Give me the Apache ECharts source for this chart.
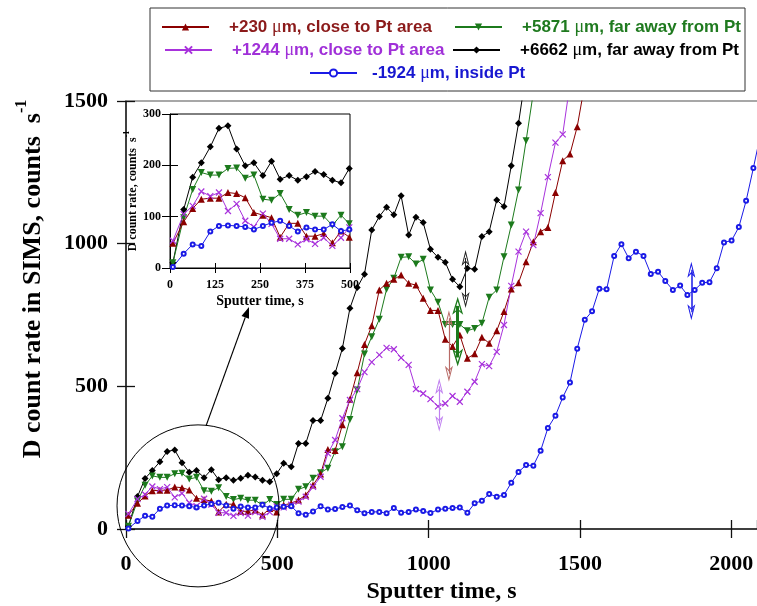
<!DOCTYPE html>
<html><head><meta charset="utf-8">
<script src="https://cdn.jsdelivr.net/npm/echarts@6/dist/echarts.min.js"></script>
<style>html,body{margin:0;padding:0;background:#fff}#c{width:757px;height:606px}</style>
</head><body><div id="c"></div>
<script>
// Sputter time, s (shared measurement times)
const time = [8, 38, 63, 87, 112, 136, 161, 185, 209, 233, 258, 282, 306, 331, 355, 379, 403, 427, 451, 475, 498,
  521, 546, 570, 594, 618, 643, 667, 691, 715, 740, 764, 788, 812, 837, 861, 885, 909, 934, 958, 982,
  1006, 1031, 1055, 1079, 1103, 1128, 1152, 1176, 1200, 1225, 1249, 1273, 1297, 1322, 1346, 1370, 1394, 1419, 1443, 1467,
  1491, 1516, 1540, 1564, 1588, 1613, 1637, 1661, 1685, 1710, 1734, 1758, 1782, 1807, 1831, 1855, 1879, 1904, 1928, 1952,
  1976, 2001, 2025, 2049, 2073, 2098];
// D count rate, counts/s
const red230 = [48, 90, 116, 134, 136, 136, 147, 145, 137, 108, 103, 98, 60, 87, 87, 62, 62, 67, 49, 72, 60,
  84, 90, 102, 119, 154, 193, 279, 275, 365, 455, 548, 647, 712, 838, 861, 875, 890, 861, 855, 809,
  766, 766, 665, 640, 680, 598, 614, 672, 651, 695, 762, 841, 863, 937, 1007, 1042, 1057, 1179, 1291, 1314, 1410, 1560];
const green5871 = [10, 98, 153, 186, 181, 181, 194, 195, 175, 181, 134, 132, 145, 114, 103, 108, 101, 101, 83, 103, 86,
  104, 104, 139, 148, 178, 197, 213, 271, 288, 384, 487, 613, 674, 735, 840, 879, 952, 954, 929, 945,
  838, 795, 717, 717, 717, 695, 703, 721, 812, 838, 954, 1065, 1188, 1361, 1530];
const purple1244 = [53, 105, 121, 149, 140, 147, 111, 125, 92, 80, 106, 86, 57, 57, 46, 56, 47, 59, 43, 59, 79,
  76, 85, 96, 113, 148, 183, 265, 312, 388, 452, 490, 550, 585, 610, 635, 630, 600, 575, 490, 475,
  455, 430, 440, 466, 446, 481, 516, 578, 571, 621, 715, 852, 972, 1042, 995, 1107, 1233, 1354, 1383, 1560];
const black6662 = [10, 114, 177, 205, 236, 272, 277, 232, 199, 205, 180, 208, 173, 180, 171, 178, 188, 182, 171, 166, 194,
  230, 218, 300, 300, 380, 380, 458, 546, 633, 774, 846, 893, 1048, 1095, 1128, 1101, 1168, 1030, 1093, 1074,
  980, 952, 935, 875, 849, 914, 910, 1025, 1042, 1153, 1130, 1273, 1422, 1600];
const blue1924 = [2, 28, 46, 43, 71, 82, 83, 82, 80, 75, 82, 88, 92, 82, 71, 79, 75, 75, 85, 72, 75,
  78, 80, 55, 50, 61, 80, 68, 70, 77, 82, 66, 55, 60, 60, 55, 74, 57, 60, 68, 63,
  56, 68, 71, 74, 75, 57, 90, 99, 123, 113, 119, 162, 200, 224, 222, 274, 354, 397, 461, 513,
  632, 733, 763, 842, 840, 957, 998, 949, 972, 957, 894, 902, 869, 838, 853, 820, 838, 863, 865, 914,
  1004, 1011, 1058, 1150, 1265, 1390];
const seriesNames = ['+230 μm, close to Pt area', '+5871 μm, far away from Pt', '+1244 μm, close to Pt area',
  '+6662 μm, far away from Pt', '-1924 μm, inside Pt'];
const mainXTicks = [0, 500, 1000, 1500, 2000];
const mainYTicks = [0, 500, 1000, 1500];
const insetXTicks = [0, 125, 250, 375, 500];
const insetYTicks = [0, 100, 200, 300];
// vertical double-arrow annotations: [time, upper value, lower value]
const arrowNotes = {
  black: [1122, 950, 803],
  green: [1096, 782, 601],
  red: [1067, 739, 544],
  purple: [1035, 500, 369],
  blue: [1868, 909, 760]
};
// circled region [time, value] centre
const circleCentre = [238, 81];

const SERIF = '"Liberation Serif", "Times New Roman", serif';
const SANS = '"Liberation Sans", Arial, sans-serif';
const COL = { red: '#8b0000', green: '#1c7a1c', purple: '#a832dc', black: '#000000', blue: '#1a1ae6' };
const TXT = { red: '#8b1a1a', green: '#1f7a1f', purple: '#a030d8', black: '#000000', blue: '#1818d0' };
const arrowPath = 'path://M5,0L10,20L5,15L0,20ZM5,5L2.2,16.3L5,12.8L7.8,16.3Z';

const pairs = (vals, n) => vals.slice(0, n || vals.length).map((v, i) => [time[i], v]);
const plainNum = v => String(v);

const styles = [
  { key: 'red', vals: red230, symbol: 'triangle', size: 7, rot: 0 },
  { key: 'green', vals: green5871, symbol: 'triangle', size: 7, rot: 180 },
  { key: 'purple', vals: purple1244, symbol: 'path://M0,0L10,10M10,0L0,10', size: 6, rot: 0 },
  { key: 'black', vals: black6662, symbol: 'diamond', size: 7, rot: 0 },
  { key: 'blue', vals: blue1924, symbol: 'emptyCircle', size: 4, rot: 0 }
];
const arrowSizes = { black: [8, 16], green: [11, 18], red: [8, 16], purple: [8, 16], blue: [8, 16] };
const arrowColors = { black: '#222', green: '#1c7a1c', red: '#b86a66', purple: '#c080f0', blue: '#1a1ae6' };
const arrowWidths = { black: 1, green: 3, red: 1.2, purple: 1.2, blue: 1.5 };

function itemStyleFor(s) {
  const c = COL[s.key];
  if (s.key === 'purple') return { color: c, borderColor: c, borderWidth: 1.2 };
  if (s.key === 'blue') return { color: c, borderWidth: 1 };
  return { color: c };
}

const series = [];
const drawOrder = [3, 1, 0, 2, 4];
drawOrder.forEach(idx => {
  const s = styles[idx];
  const a = arrowNotes[s.key];
  series.push({
    name: seriesNames[idx], type: 'line', xAxisIndex: 0, yAxisIndex: 0,
    data: pairs(s.vals), symbol: s.symbol, symbolSize: s.size, symbolRotate: s.rot, showAllSymbol: true,
    lineStyle: { color: COL[s.key], width: 1, type: 'solid' }, itemStyle: itemStyleFor(s), clip: true, animation: false,
    markLine: {
      silent: true, animation: false, label: { show: false },
      symbol: [arrowPath, arrowPath],
      lineStyle: { color: arrowColors[s.key], width: arrowWidths[s.key], type: 'solid' },
      emphasis: { disabled: true },
      data: [[
        { coord: [a[0], a[1]], symbolSize: arrowSizes[s.key] },
        { coord: [a[0], a[2]], symbolSize: arrowSizes[s.key] }
      ]]
    }
  });
});
drawOrder.forEach(idx => {
  const s = styles[idx];
  series.push({
    name: seriesNames[idx], type: 'line', xAxisIndex: 3, yAxisIndex: 2,
    data: pairs(s.vals, 21), symbol: s.symbol, symbolSize: s.size, symbolRotate: s.rot, showAllSymbol: true,
    lineStyle: { color: COL[s.key], width: 1, type: 'solid' }, itemStyle: itemStyleFor(s), clip: true, animation: false
  });
});

const legendPos = [
  { i: 0, left: 161, top: 17 }, { i: 1, left: 454, top: 17 },
  { i: 2, left: 164, top: 40 }, { i: 3, left: 452, top: 40 },
  { i: 4, left: 309, top: 63 }
];
const legendKeys = ['red', 'green', 'purple', 'black', 'blue'];
const legends = legendPos.map(p => ({
  left: p.left, top: p.top, padding: 0, itemWidth: 47, itemHeight: 9, selectedMode: false,
  data: [seriesNames[p.i]],
  formatter: n => n.replace('μ', '{mu|μ}'),
  textStyle: {
    color: TXT[legendKeys[p.i]], fontFamily: SANS, fontWeight: 'bold', fontSize: 17, lineHeight: 20,
    padding: [0, 0, 0, p.i === 4 ? 10 : 15],
    rich: { mu: { fontFamily: SERIF, fontWeight: 'normal', fontSize: 18, color: TXT[legendKeys[p.i]] } }
  }
}));

const mainTickLabel = { fontFamily: SERIF, fontWeight: 'bold', fontSize: 22, color: '#000', formatter: plainNum };
const insetTickLabel = { fontFamily: SERIF, fontWeight: 'bold', fontSize: 12, color: '#000', formatter: plainNum };

const option = {
  backgroundColor: '#fff',
  animation: false,
  legend: legends,
  grid: [
    { left: 126, top: 101, right: 0, bottom: 77, outerBoundsMode: 'none', containLabel: false },
    { left: 170, top: 114, width: 180, height: 154, show: true, backgroundColor: '#fff', borderColor: '#000', borderWidth: 1, outerBoundsMode: 'none', containLabel: false }
  ],
  xAxis: [
    { gridIndex: 0, type: 'value', min: mainXTicks[0], max: 2085, interval: 500, position: 'bottom',
      axisLine: { lineStyle: { color: '#000', width: 1.5 } },
      axisTick: { inside: false, length: 9, lineStyle: { color: '#111', width: 1.3 } },
      axisLabel: Object.assign({ margin: 24, showMaxLabel: false }, mainTickLabel),
      splitLine: { show: false },
      name: 'Sputter time, s', nameLocation: 'middle', nameGap: 47,
      nameTextStyle: { fontFamily: SERIF, fontWeight: 'bold', fontSize: 24, color: '#000' } },
    { gridIndex: 0, type: 'value', min: 0, max: 2085, interval: 500, position: 'bottom',
      axisLine: { show: false }, axisTick: { inside: true, length: 9, lineStyle: { color: '#111', width: 1.3 } },
      axisLabel: { show: false }, splitLine: { show: false } },
    { gridIndex: 0, type: 'value', min: 0, max: 2085, position: 'top',
      axisLine: { lineStyle: { color: '#8a8a8a', width: 1.5 } }, axisTick: { show: false },
      axisLabel: { show: false }, splitLine: { show: false } },
    { gridIndex: 1, type: 'value', min: insetXTicks[0], max: 500, interval: 125, position: 'bottom',
      axisLine: { lineStyle: { color: '#000', width: 1 } },
      axisTick: { inside: false, length: 5, lineStyle: { color: '#000', width: 1 } },
      axisLabel: Object.assign({ margin: 11 }, insetTickLabel), splitLine: { show: false },
      name: 'Sputter time, s', nameLocation: 'middle', nameGap: 26,
      nameTextStyle: { fontFamily: SERIF, fontWeight: 'bold', fontSize: 14, color: '#000' } },
    { gridIndex: 1, type: 'value', min: 0, max: 500, interval: 125, position: 'bottom',
      axisLine: { show: false }, axisTick: { inside: true, length: 5, lineStyle: { color: '#000', width: 1 } },
      axisLabel: { show: false }, splitLine: { show: false } }
  ],
  yAxis: [
    { gridIndex: 0, type: 'value', min: mainYTicks[0], max: 1500, interval: 500, position: 'left',
      axisLine: { show: true, lineStyle: { color: '#000', width: 1.5 } },
      axisTick: { show: true, inside: false, length: 9, lineStyle: { color: '#111', width: 1.3 } },
      axisLabel: Object.assign({ margin: 18 }, mainTickLabel), splitLine: { show: false } },
    { gridIndex: 0, type: 'value', min: 0, max: 1500, interval: 500, position: 'left',
      axisLine: { show: false }, axisTick: { show: true, inside: true, length: 9, lineStyle: { color: '#111', width: 1.3 } },
      axisLabel: { show: false }, splitLine: { show: false } },
    { gridIndex: 1, type: 'value', min: insetYTicks[0], max: 300, interval: 100, position: 'left',
      axisLine: { show: true, lineStyle: { color: '#000', width: 1 } },
      axisTick: { show: true, inside: false, length: 8, lineStyle: { color: '#000', width: 1 } },
      axisLabel: Object.assign({ margin: 9 }, insetTickLabel), splitLine: { show: false },
      name: '{a|D count rate, counts  s}{s|-1}', nameLocation: 'middle', nameGap: 25,
      nameTextStyle: { fontFamily: SERIF, fontWeight: 'bold', fontSize: 12, color: '#000',
        rich: { a: { fontFamily: SERIF, fontWeight: 'bold', fontSize: 12, lineHeight: 16, verticalAlign: 'bottom' },
                s: { fontFamily: SERIF, fontWeight: 'bold', fontSize: 8, verticalAlign: 'top' } } } },
    { gridIndex: 1, type: 'value', min: 0, max: 300, interval: 100, position: 'left',
      axisLine: { show: false }, axisTick: { show: true, inside: true, length: 8, lineStyle: { color: '#000', width: 1 } },
      axisLabel: { show: false }, splitLine: { show: false } }
  ],
  series: series
};

const chart = echarts.init(document.getElementById('c'), null, { renderer: 'canvas' });
chart.setOption(option);

const cpx = chart.convertToPixel({ xAxisIndex: 0, yAxisIndex: 0 }, circleCentre);
const R = 81;
const cTop = [cpx[0] + 8, cpx[1] - R + 1];
const tip = [249, 307];
const ang = Math.atan2(tip[1] - cTop[1], tip[0] - cTop[0]);
const hl = 11, hw = 4;
const bx = tip[0] - hl * Math.cos(ang), by = tip[1] - hl * Math.sin(ang);
chart.setOption({
  graphic: [
    { type: 'rect', shape: { x: 150, y: 8, width: 595, height: 83 }, style: { fill: 'none', stroke: '#333', lineWidth: 1 }, silent: true, z: 0 },
    { type: 'circle', shape: { cx: cpx[0], cy: cpx[1], r: R }, style: { fill: 'none', stroke: '#000', lineWidth: 1 }, silent: true, z: 10 },
    { type: 'line', shape: { x1: cTop[0], y1: cTop[1], x2: bx, y2: by }, style: { stroke: '#000', lineWidth: 1.2 }, silent: true, z: 10 },
    { type: 'polygon', shape: { points: [tip, [bx - hw * Math.sin(ang), by + hw * Math.cos(ang)], [bx + hw * Math.sin(ang), by - hw * Math.cos(ang)]] }, style: { fill: '#000' }, silent: true, z: 10 },
    { type: 'text', x: 30, y: 279, rotation: Math.PI / 2, silent: true, z: 10,
      style: { text: '{a|D count rate in SIMS, counts  s}{s|-1}', align: 'center', verticalAlign: 'middle',
        rich: { a: { fontFamily: SERIF, fontWeight: 'bold', fontSize: 26, lineHeight: 32, verticalAlign: 'bottom', fill: '#000' },
                s: { fontFamily: SERIF, fontWeight: 'bold', fontSize: 16, verticalAlign: 'top', fill: '#000' } } } }
  ]
});
</script>
</body></html>
